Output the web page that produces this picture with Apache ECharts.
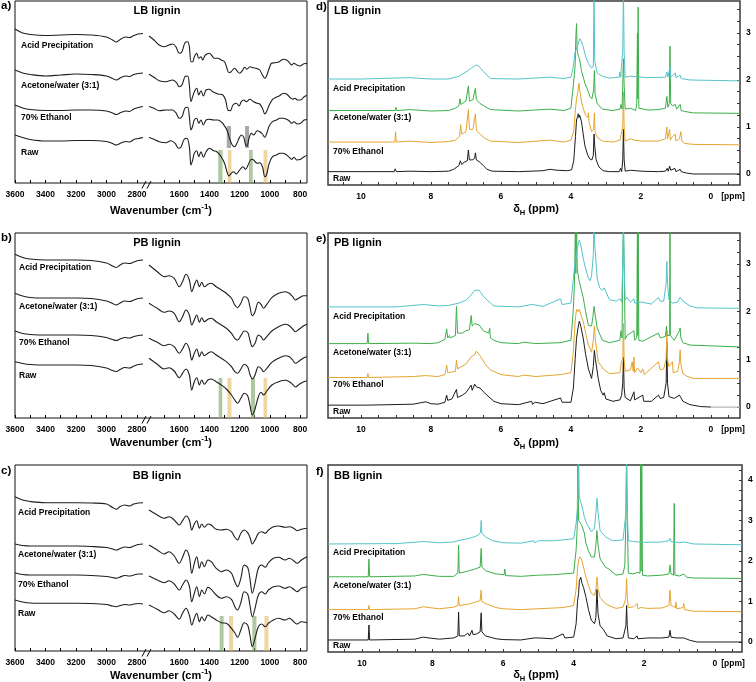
<!DOCTYPE html>
<html><head><meta charset="utf-8">
<script src="https://cdn.jsdelivr.net/npm/echarts@6/dist/echarts.min.js"></script>
<style>html,body{margin:0;padding:0;background:#fff}#c{width:756px;height:682px}</style>
</head><body><div id="c"></div>
<script>
// ---------------- DATA ----------------
const samples = ['Acid Precipitation', 'Acetone/water (3:1)', '70% Ethanol', 'Raw'];
const ligninTypes = ['LB lignin', 'PB lignin', 'BB lignin'];
const panelLetters = ['a)', 'b)', 'c)', 'd)', 'e)', 'f)'];

const ftirTicksLeft = [3600, 3500, 3400, 3300, 3200, 3100, 3000, 2900, 2800];
const ftirLabelsLeft = [3600, 3400, 3200, 3000, 2800];
const ftirTicksRight = [1700, 1600, 1500, 1400, 1300, 1200, 1100, 1000, 900, 800];
const ftirLabelsRight = [1600, 1400, 1200, 1000, 800];
const ftirYMax = [182, 185, 186];

const nmrXTicks = [10.5, 10, 9.5, 9, 8.5, 8, 7.5, 7, 6.5, 6, 5.5, 5, 4.5, 4, 3.5, 3, 2.5, 2, 1.5, 1, 0.5, 0, -0.5];
const nmrXLabels = [10, 8, 6, 4, 2, 0];
const nmrYTicksDE = [0, 0.25, 0.5, 0.75, 1, 1.25, 1.5, 1.75, 2, 2.25, 2.5, 2.75, 3, 3.25, 3.5];
const nmrYLabelsDE = [0, 1, 2, 3];
const nmrYTicksF = [0, 0.25, 0.5, 0.75, 1, 1.25, 1.5, 1.75, 2, 2.25, 2.5, 2.75, 3, 3.25, 3.5, 3.75, 4, 4.25];
const nmrYLabelsF = [0, 1, 2, 3, 4];

// FTIR (wavenumber, relative transmittance, offset-stacked)
const ftirLB_acid = [[3600,154],[3550,150],[3500,148.5],[3400,147.5],[3300,148],[3200,148.5],[3100,148],[3000,146],[2960,143],[2935,141],[2905,144],[2875,146],[2850,145.5],[2820,147.5],[2790,149],[2760,149.5],
[1800,147],[1767,143],[1733,138],[1700,136.3],[1667,138],[1644,139],[1622,136.3],[1600,129.7],[1582,131.3],[1562,140.3],[1544,141.3],[1533,136.3],[1522,121.3],[1511,121.3],[1500,126.3],[1484,129.7],[1471,124.7],[1456,126.3],[1444,123],[1427,128],[1400,129.7],[1382,127],[1367,124.7],[1344,124.7],[1322,123],[1300,121.3],[1284,114.7],[1271,110.3],[1256,111.3],[1233,114.7],[1218,112.3],[1200,109.7],[1182,112.3],[1167,115.7],[1151,113.7],[1133,116.3],[1111,115.3],[1089,114.7],[1067,113],[1049,108],[1033,104.7],[1022,107],[1004,114.7],[989,119.7],[967,120.3],[938,121.3],[911,123.7],[889,123],[871,120.3],[856,118],[840,119.7],[822,118],[800,117],[778,119],[754,119.7]];
const ftirLB_ace = [[3600,113],[3550,110],[3500,108.5],[3400,107],[3300,108],[3200,109],[3100,108.5],[3000,107],[2960,104.5],[2935,103],[2905,105.5],[2870,107],[2850,106.5],[2820,108.5],[2790,109.5],[2760,110],
[1800,108.7],[1767,105.7],[1733,102.3],[1689,101.3],[1644,103],[1618,100.3],[1600,96.3],[1582,98],[1562,106.3],[1544,107],[1533,98],[1522,81.3],[1511,86.3],[1500,91.3],[1484,94.7],[1471,88],[1456,92.3],[1440,87],[1422,93],[1400,93.7],[1378,91.3],[1344,89],[1311,88],[1293,83],[1278,73],[1262,72.3],[1244,78],[1222,79.7],[1204,77],[1189,81.3],[1173,83],[1156,81.3],[1133,83.7],[1107,81.3],[1084,79.7],[1067,79],[1049,74.7],[1033,69],[1022,71.3],[1004,78],[982,83.7],[960,85.7],[938,87],[911,89.7],[889,89],[867,85.7],[849,83.7],[833,84.7],[818,83],[796,83],[773,86.3],[754,87.5]];
const ftirLB_eth = [[3600,78],[3550,75],[3500,73.5],[3400,72.5],[3300,72.5],[3200,73],[3100,73],[3000,72],[2960,70],[2935,68.5],[2905,70.5],[2870,72],[2850,71.5],[2820,74],[2790,75.5],[2760,76.5],
[1800,76.5],[1767,74.7],[1733,72.3],[1689,73],[1644,73],[1622,70.3],[1600,64.7],[1582,66.3],[1562,74.7],[1544,75.7],[1533,66.3],[1522,53],[1511,57],[1500,63],[1484,64.7],[1471,59.7],[1456,63],[1440,58],[1422,63],[1400,63.7],[1373,63],[1344,63],[1316,60.3],[1300,57],[1284,53],[1267,44.7],[1249,38],[1233,36.3],[1218,39.7],[1204,44.7],[1189,48],[1173,45.7],[1160,38],[1151,37],[1138,44.7],[1122,49.7],[1107,48],[1084,52.3],[1067,51.3],[1049,49],[1033,45.7],[1022,49],[1004,57],[982,61.3],[956,63],[933,64.7],[911,64.7],[889,63.7],[871,62],[856,59.7],[840,61.3],[818,59],[796,59.7],[773,63],[754,63.5]];
const ftirLB_raw = [[3600,48],[3550,45.5],[3500,43.5],[3400,42],[3300,42],[3200,42.5],[3100,42.5],[3000,41.5],[2960,39.5],[2935,38],[2905,40],[2870,41.5],[2850,41],[2820,43.5],[2790,44.5],[2760,45.5],
[1800,45.5],[1767,43.7],[1733,41.3],[1689,40.3],[1656,42.3],[1627,39.7],[1604,34.7],[1589,35.7],[1567,43.7],[1549,44.7],[1533,36.3],[1522,18],[1511,23],[1500,29.7],[1484,32.3],[1471,26.3],[1456,31.3],[1440,25.7],[1422,31.3],[1400,34.7],[1373,32.3],[1351,31.3],[1322,26.3],[1300,19.7],[1284,11.3],[1271,7],[1256,9.7],[1240,11.3],[1222,9],[1200,13],[1178,16.3],[1160,13.7],[1144,18],[1122,23.7],[1107,23],[1084,19.7],[1067,20.3],[1049,16.3],[1033,6.3],[1022,8],[1004,19.7],[982,26.3],[956,28],[933,29.7],[911,29.7],[889,28],[871,25.7],[856,23.7],[840,25.7],[822,23],[796,23.7],[773,26.3],[754,27.5]];

const ftirPB_acid = [[3600,163.7],[3550,160.5],[3500,159],[3400,158],[3300,158],[3200,158],[3100,157.5],[3000,155],[2960,152],[2935,150.5],[2910,153],[2880,155],[2850,154.5],[2820,156],[2790,157.5],[2760,158],
[1800,153],[1745,146.3],[1700,141.3],[1667,142.3],[1633,139.7],[1600,131.3],[1578,136.3],[1555,143.7],[1533,138],[1517,126.3],[1500,133],[1484,138],[1466,131.3],[1451,135.7],[1433,131.3],[1410,133.7],[1388,134.7],[1355,131.3],[1321,128],[1288,124.7],[1254,119.7],[1232,113],[1214,110.3],[1192,114.7],[1170,121.3],[1147,119.7],[1132,111.3],[1116,102.3],[1098,106.3],[1076,115.7],[1058,113.7],[1042,109.7],[1020,113.7],[987,120.3],[942,124.7],[898,126.3],[871,124.7],[849,121.3],[831,118],[805,120.3],[775,122.3],[754,122.3]];
const ftirPB_ace = [[3600,124.7],[3550,122],[3500,120.5],[3400,120],[3300,120],[3200,120],[3100,119.5],[3000,117],[2960,114.5],[2935,113],[2910,115],[2880,117],[2850,116.5],[2820,118],[2790,119.5],[2760,120],
[1800,114.7],[1745,109.7],[1700,105.7],[1667,107],[1633,104.7],[1600,96.3],[1578,101.3],[1555,108],[1533,103],[1517,93],[1500,98],[1484,103],[1466,95.7],[1451,100.3],[1433,96.3],[1410,98.7],[1388,99.7],[1355,96.3],[1321,93],[1288,89.7],[1254,84.7],[1232,79.7],[1214,78],[1192,82.3],[1170,87],[1147,85.7],[1132,78],[1116,71.3],[1098,74.7],[1076,83],[1058,81.3],[1042,78],[1020,81.3],[987,87],[942,91.3],[898,93.7],[871,92.3],[849,89],[831,86.3],[805,89],[775,92.3],[754,93.7]];
const ftirPB_eth = [[3600,87],[3550,84.5],[3500,83.5],[3400,83],[3300,83],[3200,83],[3100,82.5],[3000,80.5],[2960,78.5],[2935,77.5],[2910,79],[2880,80.5],[2850,80],[2820,81.5],[2790,82.5],[2760,83],
[1800,79.7],[1745,75.7],[1700,72.3],[1667,73.7],[1633,71.3],[1600,64.7],[1578,69],[1555,74.7],[1533,69],[1517,58],[1500,64.7],[1484,69],[1466,61.3],[1451,66.3],[1433,62.3],[1410,64.7],[1388,66.3],[1355,63],[1321,59.7],[1288,56.3],[1254,51.3],[1232,46.3],[1214,44.7],[1192,49],[1170,53.7],[1147,51.3],[1132,43.7],[1116,39],[1098,43],[1076,51.3],[1058,49.7],[1042,46.3],[1020,49.7],[987,55.7],[942,59.7],[898,62.3],[871,61.3],[849,58],[831,54.7],[805,57],[775,60.3],[754,61.3]];
const ftirPB_raw = [[3600,56.3],[3550,54.5],[3500,53.5],[3400,53],[3300,53],[3200,53],[3100,52.5],[3000,50],[2960,47.5],[2935,46.5],[2910,48.5],[2880,50.5],[2850,50],[2820,52],[2790,53.5],[2760,54],
[1800,59.7],[1745,53.7],[1700,49],[1667,50.3],[1633,47],[1600,40.3],[1578,44.7],[1555,49],[1533,43],[1517,28],[1500,36.3],[1484,40.3],[1466,33],[1451,38],[1433,33.7],[1410,38],[1388,39],[1355,36.3],[1321,33],[1288,29],[1254,23],[1232,18],[1214,14.7],[1192,19.7],[1170,24.7],[1147,22.3],[1132,13],[1116,3],[1098,9],[1076,21.3],[1058,25.7],[1042,23],[1020,27],[987,33],[942,36.3],[898,37.7],[871,36.3],[849,33.7],[831,31],[805,33.7],[775,36.3],[754,37]];

const ftirBB_acid = [[3600,154.3],[3550,151],[3500,149.5],[3400,148.3],[3300,148.3],[3200,148.3],[3100,148],[3000,147],[2960,143.5],[2935,141.7],[2910,144.5],[2880,146],[2850,145],[2820,147],[2790,148],[2760,148.3],
[1800,141],[1745,136],[1700,132.7],[1667,134.3],[1633,131],[1600,126],[1578,130.3],[1555,135],[1533,131],[1517,121],[1500,127],[1484,130.3],[1466,122.7],[1451,127],[1433,123.7],[1410,127],[1388,126],[1355,121.7],[1321,121],[1288,121.7],[1254,119.3],[1232,113.7],[1214,111],[1192,117.7],[1170,121],[1147,118.3],[1132,113.7],[1116,107],[1098,111],[1076,117.7],[1054,119.3],[1031,117.7],[1009,121],[976,124.3],[942,125],[898,123.7],[871,124.3],[842,122.7],[820,120.3],[791,121.7],[754,122.7]];
const ftirBB_ace = [[3600,107],[3550,105.5],[3500,105],[3400,105],[3300,105],[3200,105],[3100,104.5],[3000,103.5],[2960,102],[2935,101],[2910,102.5],[2880,104],[2850,103.5],[2820,105],[2790,106.5],[2760,107],
[1800,106],[1745,101],[1700,97],[1667,99.3],[1633,95],[1600,87.7],[1578,93.7],[1555,101],[1533,94.3],[1517,77.7],[1500,87.7],[1484,94.3],[1466,82.7],[1451,89.3],[1433,84.3],[1410,91],[1388,89.3],[1355,82.7],[1321,79.3],[1288,81],[1254,77.7],[1232,69.3],[1214,64.3],[1192,72.7],[1170,86],[1147,83.7],[1132,72.7],[1116,57.7],[1098,67.7],[1076,82.7],[1054,86],[1031,83.7],[1009,88.3],[976,92.7],[942,93.7],[898,91],[871,92.7],[842,90.3],[820,87.7],[791,91],[754,94.3]];
const ftirBB_eth = [[3600,78.3],[3550,76.5],[3500,76],[3400,76],[3300,76],[3200,76],[3100,75.5],[3000,74.5],[2960,73.5],[2935,72.7],[2910,74],[2880,75.5],[2850,75],[2820,76],[2790,77],[2760,77],
[1800,75],[1745,71],[1700,68.3],[1667,70.3],[1633,67],[1600,61],[1578,66],[1555,71],[1533,65],[1517,49.3],[1500,57.7],[1484,64.3],[1466,54.3],[1451,61],[1433,57],[1410,63.7],[1388,61.7],[1355,56],[1321,52.7],[1288,54.3],[1254,51.7],[1232,44.3],[1214,41],[1192,48.3],[1170,59.3],[1147,57],[1132,46],[1116,34.3],[1098,42.7],[1076,56],[1054,59.3],[1031,57],[1009,61],[976,64.3],[942,65],[898,62.7],[871,64.3],[842,61.7],[820,59.3],[791,62.7],[754,64.3]];
const ftirBB_raw = [[3600,51],[3550,49],[3500,48],[3400,47.7],[3300,47.7],[3200,47.7],[3100,47.5],[3000,46.5],[2960,45],[2935,44.3],[2910,45.5],[2880,46.5],[2850,46],[2820,47],[2790,47.5],[2760,47],
[1800,46],[1745,41.7],[1700,38.3],[1667,40.3],[1633,37],[1600,31.7],[1578,37.7],[1555,42.7],[1533,36],[1517,26],[1500,32.7],[1484,37.7],[1466,29.3],[1451,34.3],[1433,30.3],[1410,36],[1388,34.3],[1355,31],[1321,28.3],[1288,27.7],[1254,22.7],[1232,18.3],[1214,13.7],[1192,21],[1170,28.3],[1147,26],[1132,16],[1116,4.3],[1098,12.7],[1076,24.3],[1054,27],[1031,24.3],[1009,27.7],[976,31],[942,32.7],[898,31],[871,32.7],[842,29.3],[820,27],[791,29.3],[754,28.3]];

// highlighted bands: [from, to, kind]
const bandsLB = [[1342,1313,'g'],[1278,1254,'o'],[1138,1113,'g'],[1042,1016,'o']];
const bandsLB_gray = [[1285,1257,'k'],[1164,1138,'k']];
const bandsPB = [[1339,1315,'g'],[1281,1254,'o'],[1125,1098,'g'],[1042,1018,'o']];
const bandsBB = [[1332,1306,'g'],[1270,1243,'o'],[1116,1089,'g'],[1036,1009,'o']];
const bandTop = [33, 40, 35];
const grayBandRange = [35, 57];

// 1H NMR (ppm, intensity with offsets)
const nmrLB_raw = [[10.94,0.05],[10,0.05],[9.05,0.05],[9.02,0.11],[8.99,0.05],[8.6,0.06],[8,0.05],[7.5,0.06],[7.35,0.1],[7.2,0.18],[7.16,0.28],[7.12,0.2],[7.05,0.25],[6.96,0.28],[6.93,0.51],[6.9,0.3],[6.82,0.3],[6.75,0.33],[6.73,0.45],[6.7,0.3],[6.62,0.26],[6.5,0.18],[6.4,0.1],[6.25,0.06],[5.5,0.05],[4.8,0.07],[4.6,0.1],[4.4,0.08],[4.1,0.07],[3.98,0.09],[3.92,0.28],[3.87,0.8],[3.84,1.15],[3.81,1.22],[3.79,1.28],[3.77,1.2],[3.75,1.25],[3.7,1.12],[3.65,0.85],[3.6,0.6],[3.52,0.4],[3.46,0.32],[3.4,0.3],[3.36,0.4],[3.34,0.85],[3.32,0.6],[3.28,0.3],[3.2,0.15],[3.08,0.07],[2.9,0.05],[2.62,0.05],[2.58,0.12],[2.55,0.05],[2.52,0.3],[2.5,0.95],[2.48,0.3],[2.45,0.06],[2.3,0.08],[2.25,0.05],[2,0.06],[1.5,0.05],[1.3,0.06],[1.25,0.12],[1.22,0.06],[1.18,0.17],[1.15,0.08],[1.1,0.1],[1.03,0.12],[1,0.05],[0.88,0.1],[0.85,0.05],[0.7,0.02],[0.5,0],[-0.83,0]];
const nmrLB_eth = [[10.94,0.68],[10,0.68],[9.03,0.68],[9.01,0.9],[8.99,0.68],[8.6,0.7],[8,0.67],[7.5,0.69],[7.3,0.72],[7.18,0.8],[7.15,1.05],[7.12,0.85],[7,0.9],[6.93,1.37],[6.9,0.95],[6.8,0.95],[6.73,1.28],[6.7,0.92],[6.6,0.85],[6.46,0.76],[6.3,0.7],[5.5,0.67],[4.6,0.72],[4.2,0.68],[4,0.72],[3.92,0.9],[3.88,1.3],[3.84,1.6],[3.8,1.75],[3.77,1.93],[3.75,1.8],[3.7,1.55],[3.65,1.4],[3.58,1.25],[3.52,1.2],[3.5,1.3],[3.48,1.1],[3.41,0.9],[3.35,0.95],[3.33,1.3],[3.31,0.9],[3.25,0.78],[3.1,0.7],[2.8,0.68],[2.6,0.72],[2.55,0.7],[2.52,1],[2.5,1.75],[2.48,1],[2.45,0.7],[2.3,0.75],[2.2,0.72],[2,0.7],[1.5,0.7],[1.3,0.75],[1.26,1],[1.24,0.75],[1.18,0.95],[1.16,0.72],[1.1,0.8],[1.02,0.85],[1,0.7],[0.9,0.75],[0.86,0.9],[0.83,0.7],[0.75,0.65],[0.5,0.63],[-0.83,0.62]];
const nmrLB_ace = [[10.94,1.35],[10,1.35],[9.02,1.35],[9,1.42],[8.98,1.35],[8.6,1.37],[8,1.34],[7.5,1.35],[7.3,1.4],[7.2,1.45],[7.17,1.6],[7.14,1.48],[7,1.55],[6.93,1.87],[6.9,1.55],[6.8,1.58],[6.73,1.82],[6.7,1.58],[6.6,1.5],[6.46,1.44],[6.3,1.37],[5.5,1.34],[4.6,1.38],[4.2,1.35],[4,1.4],[3.93,1.9],[3.88,2.3],[3.86,2.9],[3.84,3.2],[3.82,2.6],[3.78,2.5],[3.75,2.43],[3.7,2.2],[3.6,1.93],[3.5,1.75],[3.46,1.65],[3.4,1.6],[3.35,1.8],[3.33,2.2],[3.31,1.7],[3.25,1.5],[3.1,1.38],[2.8,1.35],[2.6,1.38],[2.57,1.48],[2.54,1.38],[2.52,1.9],[2.5,2.45],[2.48,1.9],[2.45,1.38],[2.3,1.4],[2.15,1.35],[2.12,1.5],[2.1,3],[2.09,1.6],[2.08,3.55],[2.06,1.4],[1.8,1.36],[1.5,1.37],[1.3,1.4],[1.26,1.65],[1.23,1.42],[1.19,1.5],[1.17,2.72],[1.15,1.5],[1.1,1.45],[1.02,1.48],[0.98,1.38],[0.88,1.48],[0.85,1.35],[0.75,1.33],[0.5,1.3],[-0.83,1.29]];
const nmrLB_acid = [[10.94,2.02],[10,2.02],[8.6,2.05],[8,2.02],[7.5,2.02],[7.2,2.08],[7,2.17],[6.85,2.25],[6.79,2.28],[6.7,2.32],[6.64,2.3],[6.5,2.18],[6.3,2.03],[5.5,2.02],[4.6,2.06],[4.2,2.03],[4,2.06],[3.93,2.3],[3.88,2.6],[3.85,2.65],[3.8,2.75],[3.75,2.88],[3.7,2.82],[3.65,2.71],[3.58,2.5],[3.5,2.35],[3.41,2.25],[3.36,2.3],[3.34,3.9],[3.32,2.4],[3.25,2.15],[3.1,2.08],[2.9,2.04],[2.62,2.06],[2.6,2.17],[2.58,2.06],[2.52,2.6],[2.5,3.9],[2.48,2.6],[2.45,2.06],[2.3,2.08],[2.28,2.12],[2.26,2.06],[1.8,2.05],[1.3,2.06],[1.26,2.17],[1.23,2.06],[1.17,2.28],[1.15,2.06],[1.02,2.15],[1,2.05],[0.88,2.1],[0.85,2.03],[0.6,2],[-0.83,1.98]];

const nmrPB_raw = [[10.94,0.04],[9.82,0.04],[9.8,0.08],[9.78,0.04],[8.5,0.06],[8.15,0.11],[8,0.07],[7.8,0.06],[7.6,0.1],[7.55,0.25],[7.52,0.14],[7.4,0.17],[7.27,0.37],[7.24,0.2],[7.1,0.25],[7,0.3],[6.85,0.46],[6.82,0.35],[6.75,0.48],[6.7,0.42],[6.6,0.4],[6.5,0.32],[6.4,0.25],[6.2,0.12],[6,0.07],[5.5,0.05],[5.12,0.12],[5.1,0.06],[5.02,0.1],[4.8,0.07],[4.3,0.19],[4.25,0.1],[4,0.1],[3.93,0.4],[3.88,1],[3.84,1.44],[3.8,1.65],[3.76,1.8],[3.72,1.7],[3.65,1.45],[3.58,1.1],[3.5,0.8],[3.41,0.6],[3.36,0.85],[3.33,1.19],[3.3,1],[3.22,0.6],[3.15,0.35],[3.08,0.25],[3.05,0.3],[3,0.17],[2.8,0.12],[2.6,0.15],[2.55,0.25],[2.52,0.5],[2.5,1.05],[2.48,0.4],[2.45,0.2],[2.3,0.13],[2.2,0.32],[2.18,0.15],[1.95,0.25],[1.92,0.12],[1.7,0.12],[1.5,0.25],[1.45,0.18],[1.35,0.2],[1.28,0.5],[1.26,1.35],[1.24,0.5],[1.2,0.22],[1.05,0.18],[0.9,0.25],[0.88,0.28],[0.8,0.12],[0.6,0.05],[0.3,0.01],[0,0]];
const nmrPB_rawTail = [[0,0],[-0.83,0]];
const nmrPB_eth = [[10.94,0.62],[9.82,0.62],[9.8,0.7],[9.78,0.62],[8.5,0.64],[8.15,0.66],[7.8,0.64],[7.6,0.68],[7.55,0.88],[7.52,0.72],[7.3,0.75],[7.27,0.98],[7.24,0.8],[7,0.9],[6.85,1.05],[6.75,1.1],[6.7,1.17],[6.6,1.08],[6.45,0.9],[6.3,0.78],[6,0.68],[5.5,0.64],[5.35,0.67],[5,0.64],[4.3,0.68],[4,0.72],[3.93,1.17],[3.88,1.8],[3.84,2.05],[3.8,2],[3.76,2.05],[3.7,1.9],[3.65,1.8],[3.58,1.55],[3.5,1.3],[3.41,1.15],[3.36,1.4],[3.33,1.7],[3.3,1.4],[3.22,0.95],[3.08,0.8],[2.9,0.7],[2.6,0.72],[2.56,0.95],[2.52,1],[2.5,1.75],[2.48,1],[2.45,0.75],[2.3,0.78],[2.25,0.95],[2.22,0.75],[2.2,1.05],[2.18,0.72],[2.1,0.82],[2,0.72],[1.95,0.8],[1.9,0.68],[1.5,0.95],[1.45,0.78],[1.35,0.8],[1.28,1],[1.26,1.6],[1.24,1],[1.2,0.85],[1.1,0.95],[1.08,0.72],[0.95,0.75],[0.9,0.95],[0.88,1.2],[0.86,0.9],[0.8,0.7],[0.7,0.65],[0.5,0.6],[-0.83,0.6]];
const nmrPB_ace = [[10.94,1.33],[9.82,1.33],[9.8,1.55],[9.78,1.33],[8.5,1.34],[8,1.33],[7.8,1.35],[7.7,1.38],[7.6,1.42],[7.55,1.64],[7.52,1.45],[7.47,1.5],[7.45,1.45],[7.3,1.5],[7.27,2.11],[7.24,1.55],[7.1,1.55],[7,1.6],[6.9,1.62],[6.85,1.92],[6.82,1.7],[6.75,1.75],[6.7,1.71],[6.62,1.72],[6.5,1.6],[6.35,1.55],[6.32,1.65],[6.3,1.45],[6.2,1.4],[6,1.35],[5.5,1.33],[5.35,1.36],[5,1.33],[4.3,1.35],[4,1.4],[3.93,2.07],[3.9,2.6],[3.87,3.9],[3.86,2.8],[3.84,3.9],[3.82,2.9],[3.78,2.7],[3.76,2.63],[3.7,2.45],[3.65,2.3],[3.58,2],[3.5,1.71],[3.41,1.7],[3.37,1.9],[3.34,2.11],[3.31,1.95],[3.25,1.65],[3.1,1.4],[2.9,1.35],[2.6,1.4],[2.57,1.6],[2.54,1.45],[2.52,3],[2.5,3.9],[2.48,3],[2.45,1.42],[2.4,1.5],[2.2,1.6],[2.18,1.4],[2.12,1.45],[2.1,3.9],[2.09,1.5],[2.08,3.9],[2.06,1.4],[1.95,1.38],[1.5,1.55],[1.45,1.45],[1.3,1.48],[1.27,1.7],[1.25,1.5],[1.18,1.5],[1.17,3.9],[1.16,1.5],[1.05,1.4],[0.9,1.6],[0.88,1.66],[0.86,1.45],[0.8,1.35],[0.6,1.3],[-0.83,1.26]];
const nmrPB_acid = [[10.94,2.1],[9,2.1],[8.2,2.15],[7.8,2.12],[7.5,2.13],[7.2,2.18],[7,2.24],[6.85,2.35],[6.75,2.45],[6.7,2.48],[6.62,2.45],[6.5,2.32],[6.3,2.18],[6.2,2.12],[5.5,2.1],[5.12,2.15],[5.1,2.11],[5,2.14],[4.8,2.11],[4.3,2.27],[4.25,2.15],[4,2.18],[3.93,2.7],[3.88,3.05],[3.84,3.19],[3.8,3.4],[3.76,3.5],[3.72,3.4],[3.65,3.12],[3.58,2.9],[3.5,2.7],[3.45,2.65],[3.41,2.75],[3.36,3.2],[3.34,3.9],[3.32,3.4],[3.25,2.7],[3.18,2.5],[3.1,2.45],[3.05,2.5],[2.9,2.25],[2.7,2.22],[2.6,2.27],[2.55,2.2],[2.52,3],[2.5,3.9],[2.48,3],[2.45,2.25],[2.4,2.3],[2.3,2.2],[2.2,2.27],[2.18,2.18],[2,2.2],[1.95,2.23],[1.7,2.16],[1.5,2.3],[1.45,2.22],[1.35,2.22],[1.28,2.6],[1.26,3.05],[1.24,2.6],[1.2,2.25],[1.1,2.18],[0.95,2.2],[0.88,2.3],[0.8,2.22],[0.6,2.12],[0.4,2.08],[-0.83,2.07]];

const nmrBB_raw = [[10.96,0.05],[9.82,0.05],[9.8,0.42],[9.78,0.05],[8.5,0.07],[8.26,0.12],[8.1,0.1],[7.8,0.07],[7.4,0.1],[7.28,0.15],[7.26,0.74],[7.24,0.15],[7.1,0.15],[7,0.22],[6.95,0.15],[6.88,0.29],[6.85,0.18],[6.75,0.2],[6.65,0.25],[6.62,0.72],[6.6,0.25],[6.5,0.15],[6.2,0.08],[6,0.06],[5.5,0.05],[5.12,0.1],[5.1,0.06],[5,0.1],[4.6,0.08],[4.3,0.2],[4.25,0.1],[4,0.12],[3.93,0.45],[3.89,1],[3.86,1.2],[3.84,1.5],[3.8,1.6],[3.76,1.44],[3.72,1.35],[3.65,1.1],[3.58,0.8],[3.5,0.54],[3.41,0.45],[3.37,0.6],[3.34,1.3],[3.31,0.7],[3.25,0.4],[3.15,0.3],[3.1,0.3],[3.05,0.15],[2.8,0.08],[2.6,0.1],[2.55,0.12],[2.52,0.4],[2.5,0.9],[2.48,0.4],[2.45,0.1],[2.3,0.08],[2.2,0.15],[2.18,0.08],[1.9,0.1],[1.5,0.1],[1.3,0.12],[1.27,0.29],[1.24,0.12],[1.1,0.1],[0.88,0.1],[0.7,0.04],[0.5,0],[-0.77,0]];
const nmrBB_eth = [[10.96,0.8],[9.82,0.8],[9.8,0.9],[9.78,0.8],[8.5,0.82],[8.26,0.87],[8.1,0.85],[7.8,0.82],[7.4,0.86],[7.28,0.9],[7.26,1.12],[7.24,0.9],[7,0.93],[6.8,0.98],[6.65,1.02],[6.62,1.28],[6.6,1],[6.5,0.95],[6.2,0.85],[6,0.82],[5.5,0.8],[4.3,0.85],[4,0.9],[3.93,1.3],[3.89,1.8],[3.86,2.02],[3.82,2.1],[3.78,2.05],[3.72,1.85],[3.65,1.6],[3.58,1.4],[3.5,1.2],[3.41,1.15],[3.37,1.3],[3.34,1.6],[3.31,1.3],[3.25,1.1],[3.1,0.95],[3,0.9],[2.8,0.83],[2.6,0.86],[2.55,1],[2.52,1.1],[2.5,1.57],[2.48,1.1],[2.45,0.85],[2.3,0.87],[2.2,0.95],[2.18,0.82],[2.1,0.85],[1.9,0.83],[1.5,0.84],[1.3,0.9],[1.27,1.28],[1.24,0.9],[1.12,0.85],[1.1,0.98],[1.08,0.82],[0.9,0.85],[0.88,0.95],[0.86,0.8],[0.6,0.76],[-0.77,0.75]];
const nmrBB_ace = [[10.96,1.61],[9.82,1.61],[9.8,2.05],[9.78,1.61],[8.5,1.63],[8.26,1.67],[8.1,1.65],[7.8,1.62],[7.4,1.62],[7.28,1.7],[7.26,2.39],[7.24,1.7],[7,1.75],[6.8,1.8],[6.65,1.85],[6.62,2.31],[6.6,1.85],[6.5,1.76],[6.2,1.68],[5.97,1.66],[5.95,1.8],[5.93,1.64],[5.5,1.62],[5,1.65],[4.6,1.66],[4.3,1.68],[4,1.7],[3.93,2.27],[3.9,2.8],[3.88,4.6],[3.86,3],[3.82,3],[3.78,2.9],[3.76,2.85],[3.7,2.7],[3.65,2.43],[3.58,2.25],[3.5,2.1],[3.41,2.1],[3.37,2.4],[3.34,2.75],[3.31,2.4],[3.25,2.05],[3.1,1.85],[3,1.8],[2.8,1.65],[2.6,1.68],[2.55,1.9],[2.52,3],[2.5,4.6],[2.48,3],[2.45,1.7],[2.3,1.68],[2.2,1.72],[2.12,1.7],[2.1,4.6],[2.09,1.75],[2.07,4.6],[2.05,1.65],[1.9,1.63],[1.5,1.65],[1.3,1.68],[1.27,1.9],[1.24,1.68],[1.17,1.65],[1.15,3.42],[1.13,1.65],[1,1.63],[0.88,1.68],[0.8,1.6],[0.6,1.58],[-0.77,1.57]];
const nmrBB_acid = [[10.96,2.42],[9,2.43],[8.26,2.48],[8.1,2.47],[7.8,2.45],[7.4,2.47],[7.28,2.5],[7.26,2.52],[7.24,2.5],[7,2.55],[6.8,2.6],[6.7,2.64],[6.64,2.7],[6.62,3],[6.6,2.68],[6.5,2.6],[6.3,2.5],[6,2.45],[5.5,2.44],[5.12,2.5],[5.1,2.45],[5,2.5],[4.6,2.5],[4.3,2.52],[4,2.55],[3.93,2.93],[3.89,3.3],[3.86,4.6],[3.84,3.6],[3.8,3.45],[3.76,3.34],[3.7,3.1],[3.65,2.96],[3.58,2.85],[3.5,2.72],[3.41,2.8],[3.37,3.2],[3.34,3.55],[3.31,3.2],[3.25,2.75],[3.1,2.6],[3,2.55],[2.9,2.5],[2.6,2.52],[2.55,2.55],[2.52,3.2],[2.5,4.6],[2.48,3.2],[2.45,2.5],[2.3,2.48],[2,2.46],[1.5,2.47],[1.3,2.5],[1.27,2.56],[1.24,2.48],[1,2.45],[0.88,2.47],[0.6,2.42],[-0.77,2.4]];

// ---------------- BUILD ----------------
const FONT = "'Liberation Sans', Arial, Helvetica, sans-serif";
const grid = [], xAxis = [], yAxis = [], series = [], graphic = [];
function plainNum(v) { return String(v); }
function addGrid(g, xa, ya) {
  g.outerBoundsMode = 'none';
  grid.push(g);
  const gi = grid.length - 1;
  xa.gridIndex = gi; ya.gridIndex = gi;
  xAxis.push(xa); yAxis.push(ya);
  return gi;
}
function txt(x, y, text, size, align, extra) {
  graphic.push(Object.assign({
    type: 'text', x: x, y: y, silent: true, z: 100,
    style: { text: text, fill: '#000', fontSize: size, fontWeight: 'bold', fontFamily: FONT,
      align: align || 'left', verticalAlign: 'middle', textAlign: align || 'left', textVerticalAlign: 'middle' }
  }, extra || {}));
}
function hiddenAxis() { return { type: 'value', show: false, min: 0, max: 1 }; }
function ftirX(min, max, ticks, labels) {
  return {
    type: 'value', min: min, max: max, inverse: true,
    axisLine: { show: false, onZero: false },
    axisTick: { show: true, inside: true, length: 3, customValues: ticks, lineStyle: { color: '#000', width: 1 } },
    axisLabel: { show: true, customValues: labels, formatter: plainNum, margin: 7, fontSize: 8.5, fontWeight: 'bold', color: '#000', fontFamily: FONT, showMinLabel: true, showMaxLabel: true },
    splitLine: { show: false }
  };
}
const bandColor = { g: 'rgba(120,165,100,0.6)', o: 'rgba(226,178,80,0.55)', k: 'rgba(110,110,110,0.6)' };

function ftirPanel(i, top, curves, bands, grayBands) {
  const h = ftirYMax[i];
  addGrid({ left: 15, top: top, width: 292, height: h, show: true, borderColor: '#111', borderWidth: 1, backgroundColor: 'rgba(0,0,0,0)' }, hiddenAxis(), hiddenAxis());
  const gl = addGrid({ left: 15, top: top, width: 128, height: h }, ftirX(2760, 3600, ftirTicksLeft, ftirLabelsLeft),
    { type: 'value', min: 0, max: h, show: false, axisLine: { onZero: false } });
  const gr = addGrid({ left: 149, top: top, width: 158, height: h }, ftirX(754, 1800, ftirTicksRight, ftirLabelsRight),
    { type: 'value', min: 0, max: h, show: false, axisLine: { onZero: false } });
  curves.forEach(function (c, k) {
    const base = { type: 'line', showSymbol: false, symbol: 'none', silent: true, animation: false, smooth: 0.35,
      lineStyle: { color: '#1e1e1e', width: 1.1 }, z: 3 };
    series.push(Object.assign({}, base, { xAxisIndex: gl, yAxisIndex: gl, data: c.filter(function (p) { return p[0] >= 2700; }) }));
    const s = Object.assign({}, base, { xAxisIndex: gr, yAxisIndex: gr, data: c.filter(function (p) { return p[0] <= 1900; }) });
    if (k === 3) {
      s.markArea = { silent: true, data: bands.map(function (b) {
        return [{ xAxis: b[0], yAxis: 0, itemStyle: { color: bandColor[b[2]] } }, { xAxis: b[1], yAxis: bandTop[i] }];
      }) };
    }
    if (k === 2 && grayBands) {
      s.markArea = { silent: true, data: grayBands.map(function (b) {
        return [{ xAxis: b[0], yAxis: grayBandRange[0], itemStyle: { color: bandColor[b[2]] } }, { xAxis: b[1], yAxis: grayBandRange[1] }];
      }) };
    }
    series.push(s);
  });
  const bottom = top + h;
  graphic.push({ type: 'line', silent: true, z: 100, shape: { x1: 142, y1: bottom + 5.5, x2: 146, y2: bottom - 2 }, style: { stroke: '#000', lineWidth: 1 } });
  graphic.push({ type: 'line', silent: true, z: 100, shape: { x1: 147, y1: bottom + 5.5, x2: 151, y2: bottom - 2 }, style: { stroke: '#000', lineWidth: 1 } });
}

const nmrColors = ['#1c1c1c', '#e4a531', '#3caf4a', '#55c3c7'];
function nmrPanel(i, top, h, w, xmin, xmax, ymin, ymax, yTicks, yLabels, curves, extra) {
  const g = addGrid({ left: 328, top: top, width: w, height: h, show: true, borderColor: '#3a3a3a', borderWidth: 1.5, backgroundColor: 'rgba(0,0,0,0)' },
    { type: 'value', min: xmin, max: xmax, inverse: true,
      axisLine: { show: false, onZero: false },
      axisTick: { show: true, inside: true, length: 3, customValues: nmrXTicks, lineStyle: { color: '#333' } },
      axisLabel: { customValues: nmrXLabels, formatter: plainNum, margin: 7, fontSize: 8.5, fontWeight: 'bold', color: '#000', fontFamily: FONT },
      splitLine: { show: false } },
    { type: 'value', min: ymin, max: ymax, position: 'right',
      axisLine: { show: false, onZero: false },
      axisTick: { show: true, inside: true, length: 3, customValues: yTicks, lineStyle: { color: '#333' } },
      axisLabel: { customValues: yLabels, formatter: plainNum, margin: 6, fontSize: 8.5, fontWeight: 'bold', color: '#000', fontFamily: FONT },
      splitLine: { show: false } });
  curves.forEach(function (c, k) {
    series.push({ type: 'line', xAxisIndex: g, yAxisIndex: g, data: c, showSymbol: false, symbol: 'none', silent: true, animation: false,
      clip: true, lineStyle: { color: nmrColors[k], width: 1 }, z: 3 + k });
    if (k === 0 && extra) {
      series.push({ type: 'line', xAxisIndex: g, yAxisIndex: g, data: extra, showSymbol: false, symbol: 'none', silent: true, animation: false,
        lineStyle: { color: '#b8b8b8', width: 1.2 }, z: 3 });
    }
  });
}

ftirPanel(0, 1, [ftirLB_acid, ftirLB_ace, ftirLB_eth, ftirLB_raw], bandsLB, bandsLB_gray);
ftirPanel(1, 233, [ftirPB_acid, ftirPB_ace, ftirPB_eth, ftirPB_raw], bandsPB, null);
ftirPanel(2, 465, [ftirBB_acid, ftirBB_ace, ftirBB_eth, ftirBB_raw], bandsBB, null);

nmrPanel(3, 1, 184, 412, -0.83, 10.94, -0.234, 3.68, nmrYTicksDE, nmrYLabelsDE, [nmrLB_raw, nmrLB_eth, nmrLB_ace, nmrLB_acid]);
nmrPanel(4, 233, 185, 412, -0.83, 10.94, -0.23, 3.65, nmrYTicksDE, nmrYLabelsDE, [nmrPB_raw, nmrPB_eth, nmrPB_ace, nmrPB_acid], nmrPB_rawTail);
nmrPanel(5, 465, 187, 414, -0.77, 10.96, -0.247, 4.37, nmrYTicksF, nmrYLabelsF, [nmrBB_raw, nmrBB_eth, nmrBB_ace, nmrBB_acid]);

// texts
const ftirTitleY = [11, 243, 476];
const ftirLabelY = [[46, 86, 118, 153], [268, 307, 343, 376], [513, 555, 585, 614]];
const ftirLabelX = [21, 19, 18];
const nmrLabelY = [[89, 118, 152, 179], [317, 353, 385, 412], [553, 586, 618, 646]];
const letterY = [6, 238, 471];
const axisTitleY = [211, 443, 676];
const nmrAxisTitleY = [209, 443, 675];
const ppmLabelY = [196, 429, 663];
for (let i = 0; i < 3; i++) {
  txt(1, letterY[i], panelLetters[i], 11.5, 'left');
  txt(316, letterY[i] + 1, panelLetters[i + 3], 11.5, 'left');
  txt(157, ftirTitleY[i], ligninTypes[i], 11, 'center');
  txt(334, ftirTitleY[i], ligninTypes[i], 11, 'left');
  for (let k = 0; k < 4; k++) {
    txt(ftirLabelX[i], ftirLabelY[i][k], samples[k], 8.5, 'left');
    txt(333, nmrLabelY[i][k], samples[k], 8.5, 'left');
  }
  txt(733, ppmLabelY[i] + 1, '[ppm]', 8.5, 'center');
  graphic.push({ type: 'text', x: 161, y: axisTitleY[i], silent: true, z: 100,
    style: { text: '{n|Wavenumber (cm}{s|-1}{n|)}', align: 'center', verticalAlign: 'middle', textAlign: 'center', textVerticalAlign: 'middle',
      rich: { n: { fontSize: 11, fontWeight: 'bold', fontFamily: FONT, fill: '#000', color: '#000', lineHeight: 16 },
              s: { fontSize: 8, fontWeight: 'bold', fontFamily: FONT, fill: '#000', color: '#000', lineHeight: 9, verticalAlign: 'top' } } } });
  graphic.push({ type: 'text', x: 536, y: nmrAxisTitleY[i], silent: true, z: 100,
    style: { text: '{n|δ}{s|H}{n| (ppm)}', align: 'center', verticalAlign: 'middle', textAlign: 'center', textVerticalAlign: 'middle',
      rich: { n: { fontSize: 11, fontWeight: 'bold', fontFamily: FONT, fill: '#000', color: '#000', lineHeight: 16 },
              s: { fontSize: 7.5, fontWeight: 'bold', fontFamily: FONT, fill: '#000', color: '#000', lineHeight: 8, verticalAlign: 'bottom' } } } });
}

const chart = echarts.init(document.getElementById('c'), null, { renderer: 'canvas' });
chart.setOption({ animation: false, backgroundColor: '#fff', grid: grid, xAxis: xAxis, yAxis: yAxis, series: series, graphic: graphic });
</script></body></html>
